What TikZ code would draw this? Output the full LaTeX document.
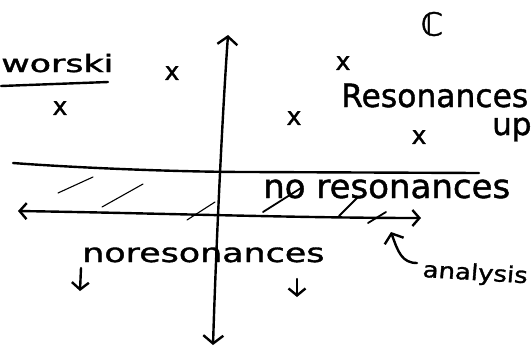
\documentclass[tikz,border=0pt]{standalone}
\usepackage{fontspec}
\setmainfont{DejaVu Sans}[FakeBold=1.3]
\usetikzlibrary{arrows.meta}
\begin{document}
\begin{tikzpicture}[x=1pt,y=-1pt,
  hand/.style={line width=2.4pt, line cap=round, line join=round},
  thinhatch/.style={line width=1.1pt, line cap=round},
  thickhatch/.style={line width=1.8pt, line cap=round},
  lbl/.style={inner sep=0pt, anchor=base west},
  xmark/.style={inner sep=0pt, font=\fontsize{25}{25}\selectfont}
]
\useasboundingbox (0,0) rectangle (532,360);
\clip (0,0) rectangle (532,360);

% axes
\coordinate (vtop) at (228,35);
\coordinate (vbot) at (213,345);
\draw[hand, {Straight Barb[length=8pt,width=20pt]}-{Straight Barb[length=8pt,width=20pt]}]
  (vbot) .. controls (216,250) and (222,120) .. (vtop);

\coordinate (hl) at (18,211);
\coordinate (hr) at (421,218);
\draw[hand, {Straight Barb[length=7pt,width=16pt]}-{Straight Barb[length=7pt,width=16pt]}]
  (hl) .. controls (150,213) and (300,218) .. (hr);

\coordinate (ul) at (13,163);
\coordinate (um) at (250,172);
\coordinate (ur) at (479,173);
\draw[hand] (ul) .. controls (80,168) and (180,172) .. (um) -- (ur);

% hatching
\draw[thinhatch] (58,193) -- (93,177);
\draw[thinhatch] (102,207) -- (143,184);
\draw[thinhatch] (187,220) -- (215,202);
\draw[thickhatch] (263,212) -- (301,188);
\draw[thickhatch] (339,216) -- (358,197);
\draw[thickhatch] (368,223) -- (386,212);

% labels
\node[lbl, xscale=1.45, font=\fontsize{24}{24}\selectfont] (wor) at (1,72) {worski};
\coordinate (u1) at (1,86);
\coordinate (u2) at (108,82);
\draw[hand] (u1) -- (u2);

\node[inner sep=0pt, font=\fontsize{32}{32}\selectfont] (C) at (432,24) {ℂ};
\node[lbl, xscale=0.98, font=\fontsize{32}{32}\selectfont] (res) at (341,107) {Resonances};
\node[lbl, font=\fontsize{31}{31}\selectfont] (up) at (492,135) {up};
\node[lbl, xscale=1.03, font=\fontsize{33}{33}\selectfont] (nores) at (263,198) {no resonances};
\node[lbl, xscale=1.34, font=\fontsize{26}{26}\selectfont] (nores2) at (82,262) {noresonances};
\node[lbl, xscale=1.18, rotate=-4, font=\fontsize{22}{22}\selectfont] (ana) at (422,277) {analysis};

% x marks
\node[xmark] (x1) at (172,73) {x};
\node[xmark] (x2) at (60,108) {x};
\node[xmark] (x3) at (343,63) {x};
\node[xmark] (x4) at (294,118) {x};
\node[xmark] (x5) at (419,137) {x};

% small arrows
\coordinate (d1a) at (81,268);
\coordinate (d1b) at (80,291);
\draw[hand, -{Straight Barb[length=7pt,width=17pt]}] (d1a) -- (d1b);
\coordinate (d2a) at (297,279);
\coordinate (d2b) at (297,297);
\draw[hand, -{Straight Barb[length=7pt,width=17pt]}] (d2a) -- (d2b);

% analysis pointer
\coordinate (ca) at (417,263);
\coordinate (cb) at (391,232);
\draw[hand, -{Straight Barb[length=8pt,width=20pt]}] (ca) .. controls (402,263) and (398,252) .. (cb);
\end{tikzpicture}
\end{document}
